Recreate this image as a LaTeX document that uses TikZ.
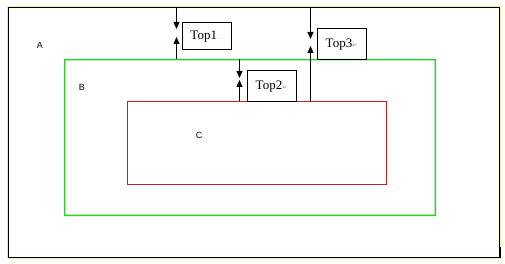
\documentclass[tikz,border=0pt]{standalone}
\usepackage{fontspec}
\setmainfont{Liberation Serif}
\newfontfamily\symfont{DejaVu Sans}
\newfontfamily\lblfont{Liberation Sans}
\usetikzlibrary{arrows.meta}
\definecolor{bgreen}{RGB}{40,210,40}
\definecolor{cred}{RGB}{200,30,30}
\definecolor{ayellow}{RGB}{240,240,150}
\newcommand\retmk{\textcolor{gray}{\symfont\fontsize{6}{6}\selectfont ↵}}
\newcommand\dotmk{\textcolor{gray}{\fontsize{5}{5}\selectfont .\,.}}
\tikzset{
  region/.style={line width=1pt},
  topbox/.style={draw, line width=1pt, inner sep=0pt, anchor=north west, font=\fontsize{13}{14}\selectfont},
  lbl/.style={font=\lblfont\fontsize{9}{10}\selectfont, inner sep=0pt},
  arr/.style={line width=1pt, -{Triangle[length=7pt,width=6pt]}}
}
\begin{document}
\begin{tikzpicture}[x=1pt,y=-1pt]
\useasboundingbox (0,0) rectangle (505,264);
\fill[white] (0,0) rectangle (505,264);
% outer A frame with yellow halo
\draw[ayellow, line width=1pt] (7.5,6.5) rectangle (500.5,258.5);
\coordinate (Anw) at (8.5,7.5); \coordinate (Ase) at (499.5,257.5);
\coordinate (Bo1) at (64,59); \coordinate (Bo2) at (436,216);
\coordinate (Bi1) at (65.3,60.3); \coordinate (Bi2) at (434.7,214.7);
\coordinate (Cnw) at (127.5,101.5); \coordinate (Cse) at (386.5,184.5);
\draw[region, black] (Anw) rectangle (Ase);
\fill[bgreen, even odd rule] (Bo1) rectangle (Bo2) (Bi1) rectangle (Bi2);
\draw[region, cred, line width=1.1pt] (Cnw) rectangle (Cse);
\node[lbl] (la) at (40,45) {A};
\node[lbl] (lb) at (82,87) {B};
\node[lbl] (lc) at (199,135) {C};
% Top boxes
\node[topbox, minimum width=49pt, minimum height=27pt] (t1) at (181.5,22.5) {Top1\,\dotmk};
\node[topbox, minimum width=49pt, minimum height=31pt] (t2) at (246.5,70.5) {Top2\retmk};
\node[topbox, minimum width=49pt, minimum height=31pt] (t3) at (316.5,28.5) {Top3\retmk};
% arrows
\coordinate (a1) at (176.5,7.5);  \coordinate (a1d) at (176.5,29);
\coordinate (a1b) at (176.5,59.5); \coordinate (a1u) at (176.5,37);
\coordinate (a2) at (239.5,59.5); \coordinate (a2d) at (239.5,78);
\coordinate (a2b) at (239.5,101.5); \coordinate (a2u) at (239.5,80);
\coordinate (a3) at (310.5,7.5); \coordinate (a3d) at (310.5,39);
\coordinate (a3b) at (310.5,101.5); \coordinate (a3u) at (310.5,46);
\draw[arr] (a1) -- (a1d);
\draw[arr] (a1b) -- (a1u);
\draw[arr] (a2) -- (a2d);
\draw[arr] (a2b) -- (a2u);
\draw[arr] (a3) -- (a3d);
\draw[arr] (a3b) -- (a3u);
% corner mark
\coordinate (m1) at (500,247); \coordinate (m2) at (500,258);
\draw[line width=2pt] (m1) -- (m2);
\end{tikzpicture}
\end{document}
